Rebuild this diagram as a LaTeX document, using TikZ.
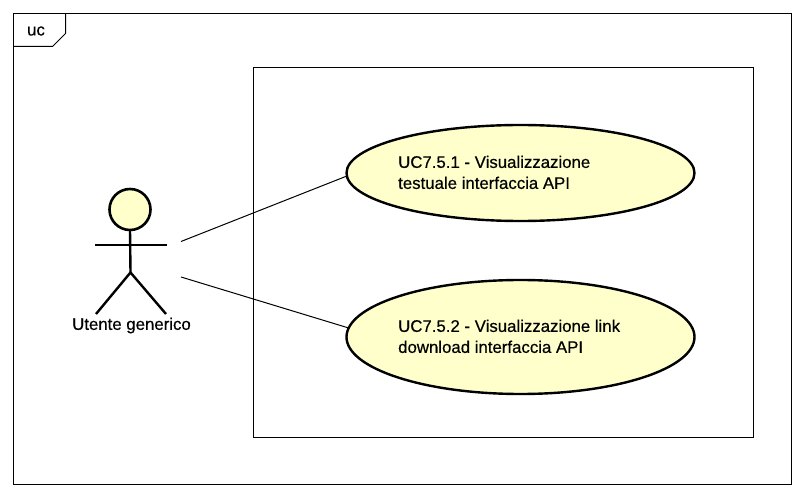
\documentclass[tikz,border=0pt]{standalone}
\usepackage{fontspec}
\setmainfont{Liberation Sans}
\newfontfamily\lblfont[FakeBold=0.4]{Liberation Sans}
\usetikzlibrary{shapes.geometric}
\definecolor{ucfill}{RGB}{255,255,204}
\tikzset{
  thin line/.style={draw=black,line width=1pt},
  thick line/.style={draw=black,line width=2.4pt},
  uc/.style={ellipse,draw=black,line width=2.4pt,fill=ucfill,inner sep=0pt,outer sep=0pt,minimum width=348pt,minimum height=#1},
  lbl/.style={font=\lblfont\fontsize{16.8pt}{21pt}\selectfont,text=black,inner sep=0pt,align=left,anchor=north west},
}
\begin{document}
\begin{tikzpicture}[x=1pt,y=-1pt]
\useasboundingbox (0,0) rectangle (804,497);
\fill[white] (0,0) rectangle (804,497);
% frame
\draw[thin line] (13.5,13.5) rectangle (791.5,484.5);
\draw[thin line] (13.5,46.5) -- (52.5,46.5) -- (65.5,33.5) -- (65.5,13.5);
\node[lbl,anchor=center] (frameLabel) at (36,31) {uc};
% system boundary
\draw[thin line] (253.5,67.5) rectangle (753.5,437.5);
% use cases
\node[uc=96pt] (ucA) at (520.5,173) {};
\node[uc=114pt] (ucB) at (520.5,337) {};
\node[lbl] (ucAText) at (398,155.5) {UC7.5.1 - Visualizzazione\\testuale interfaccia API};
\node[lbl] (ucBText) at (398,319.5) {UC7.5.2 - Visualizzazione link\\download interfaccia API};
% actor
\node[circle,draw=black,line width=2.6pt,fill=ucfill,minimum size=41pt,inner sep=0pt,outer sep=0pt] (head) at (130,209.5) {};
\coordinate (hip) at (130.5,272.5);
\coordinate (armL) at (95,245);
\coordinate (armR) at (167,245);
\coordinate (footL) at (96,314);
\coordinate (footR) at (166,314);
\draw[thick line] (head.south) -- (hip);
\draw[thick line] (armL) -- (armR);
\draw[thick line] (footL) -- (hip) -- (footR);
\node[lbl,anchor=center] (actor) at (131.5,325.5) {Utente generico};
% connectors
\coordinate (actorEndA) at (181,241.5);
\coordinate (actorEndB) at (181,277);
\draw[thin line] (actorEndA) -- (ucA.181.6);
\draw[thin line] (actorEndB) -- (ucB.177.7);
\end{tikzpicture}
\end{document}
